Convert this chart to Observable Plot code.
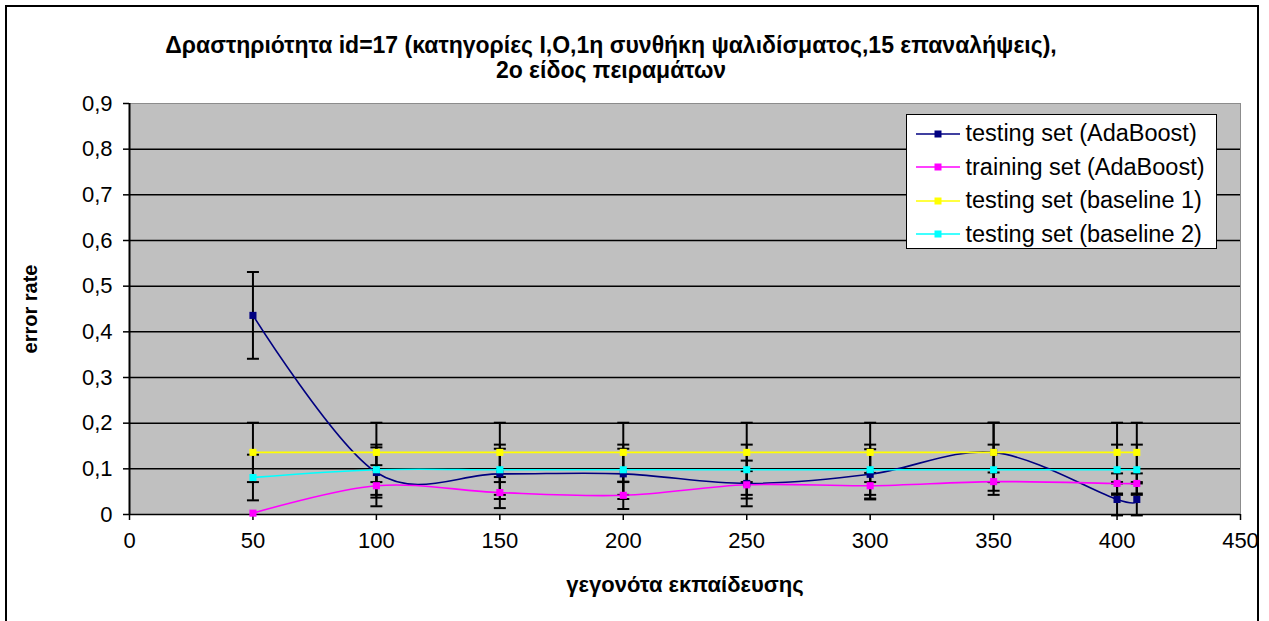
<!DOCTYPE html>
<html>
<head>
<meta charset="utf-8">
<script src="https://cdn.jsdelivr.net/npm/d3@7"></script>
<script src="https://cdn.jsdelivr.net/npm/@observablehq/plot@0.6"></script>
<style>
  html, body { margin: 0; padding: 0; background: #fff; }
  #wrap { position: relative; width: 1269px; height: 621px; overflow: hidden; font-family: "Liberation Sans", Arial, sans-serif; }
  #frame { position: absolute; left: 5px; top: 5px; width: 1254px; height: 700px; border: 2px solid #000; box-sizing: border-box; }
  #chart { position: absolute; left: 0; top: 0; }
  #legend { position: absolute; left: 906px; top: 114px; width: 311px; height: 135px; box-sizing: border-box; border: 1.5px solid #000; background: #fff; padding-top: 2px; }
  .row { display: flex; align-items: center; height: 33.5px; font-size: 23.5px; color: #000; white-space: nowrap; }
  .row svg { margin-left: 8.5px; margin-right: 6px; flex: none; }
</style>
</head>
<body>
<div id="wrap">
  <div id="frame"></div>
  <div id="chart"></div>
  <div id="legend"></div>
</div>
<script>
// ---- data ----
const events = [50, 100, 150, 200, 250, 300, 350, 400, 408];
const testingAda = [0.436, 0.092, 0.089, 0.089, 0.068, 0.088, 0.136, 0.033, 0.033];
const testingAdaErr = [0.095, 0.055, 0.055, 0.055, 0.05, 0.055, 0.065, 0.035, 0.035];
const trainingAda = [0.003, 0.063, 0.048, 0.042, 0.065, 0.063, 0.072, 0.068, 0.068];
const trainingAdaErr = [0.0, 0.045, 0.034, 0.03, 0.03, 0.028, 0.02, 0.022, 0.022];
const baseline1 = [0.136, 0.136, 0.136, 0.136, 0.136, 0.136, 0.136, 0.136, 0.136];
const baseline1Err = [0.065, 0.065, 0.065, 0.065, 0.065, 0.065, 0.065, 0.065, 0.065];
const baseline2 = [0.081, 0.098, 0.098, 0.098, 0.098, 0.098, 0.098, 0.098, 0.098];
const baseline2Err = [0.05, 0.055, 0.055, 0.055, 0.055, 0.055, 0.055, 0.055, 0.055];
const seriesNames = ["testing set (AdaBoost)", "training set (AdaBoost)", "testing set (baseline 1)", "testing set (baseline 2)"];
const seriesColors = ["#000080", "#ff00ff", "#ffff00", "#00ffff"];
const xTicks = [0, 50, 100, 150, 200, 250, 300, 350, 400, 450];
const yTicks = [0, 0.1, 0.2, 0.3, 0.4, 0.5, 0.6, 0.7, 0.8, 0.9];
const titleLines = ["Δραστηριότητα id=17 (κατηγορίες I,O,1η συνθήκη ψαλιδίσματος,15 επαναλήψεις),", "2ο είδος πειραμάτων"];
const xTitle = "γεγονότα εκπαίδευσης";
const yTitle = "error rate";

// ---- build table ----
const valuesBySeries = [testingAda, trainingAda, baseline1, baseline2];
const errBySeries = [testingAdaErr, trainingAdaErr, baseline1Err, baseline2Err];
const rows = [];
seriesNames.forEach((s, si) => {
  events.forEach((x, i) => {
    rows.push({series: s, x, y: valuesBySeries[si][i], e: errBySeries[si][i], order: si});
  });
});
const errRows = rows.filter(d => d.e > 0);

const capSymbol = {
  draw(context, size) {
    const w = Math.sqrt(size / Math.PI);
    context.moveTo(-w, 0);
    context.lineTo(w, 0);
  }
};

const fmt = d => d === 0 ? "0" : d.toFixed(1).replace(".", ",");

const chart = Plot.plot({
  width: 1269,
  height: 621,
  marginTop: 103,
  marginBottom: 107,
  marginLeft: 129,
  marginRight: 29,
  style: {fontFamily: "'Liberation Sans', Arial, sans-serif", fontSize: "22px", color: "#000", background: "transparent"},
  x: {domain: [0, 450], ticks: xTicks},
  y: {domain: [0, 0.9], ticks: yTicks},
  marks: [
    Plot.frame({fill: "#c0c0c0", stroke: "#8c8c8c"}),
    Plot.ruleY(yTicks.slice(0, 9), {stroke: "#000", strokeWidth: 1.5}),
    Plot.ruleX([0], {stroke: "#000", strokeWidth: 2}),
    Plot.axisX({ticks: xTicks, tickSize: 6, tickPadding: 12, tickFormat: d => String(d), label: null, fontSize: 22, stroke: "#000", strokeWidth: 1.5}),
    Plot.axisY({ticks: yTicks, tickSize: 6, tickPadding: 11, tickFormat: fmt, label: null, fontSize: 22, stroke: "#000", strokeWidth: 1.5}),
    // error bars
    Plot.ruleX(errRows, {x: "x", y1: d => d.y - d.e, y2: d => d.y + d.e, stroke: "#000", strokeWidth: 2}),
    Plot.dot(errRows, {x: "x", y: d => d.y - d.e, symbol: capSymbol, r: 6, stroke: "#000", strokeWidth: 2, fill: "none"}),
    Plot.dot(errRows, {x: "x", y: d => d.y + d.e, symbol: capSymbol, r: 6, stroke: "#000", strokeWidth: 2, fill: "none"}),
    // lines
    ...seriesNames.map((s, si) => Plot.line(rows.filter(d => d.order === si), {x: "x", y: "y", stroke: seriesColors[si], strokeWidth: 1.6, curve: "cardinal", tension: 0})),
    // markers
    ...seriesNames.map((s, si) => Plot.dot(rows.filter(d => d.order === si), {x: "x", y: "y", symbol: "square", r: 4, fill: seriesColors[si], stroke: "none"})),
    // titles
    Plot.text([titleLines[0]], {frameAnchor: "top", dx: -74, dy: -58, text: d => d, fontWeight: "bold", fontSize: 23, lineAnchor: "middle"}),
    Plot.text([titleLines[1]], {frameAnchor: "top", dx: -74, dy: -33, text: d => d, fontWeight: "bold", fontSize: 23, lineAnchor: "middle"}),
    Plot.text([xTitle], {frameAnchor: "bottom", dy: 70, text: d => d, fontWeight: "bold", fontSize: 22, textAnchor: "middle", lineAnchor: "middle", style: {letterSpacing: "1px"}}),
    Plot.text([yTitle], {frameAnchor: "left", dx: -99, rotate: -90, text: d => d, fontWeight: "bold", fontSize: 20, textAnchor: "middle", lineAnchor: "middle"})
  ]
});
document.getElementById("chart").appendChild(chart);

// legend
const legend = document.getElementById("legend");
seriesNames.forEach((s, si) => {
  const row = document.createElement("div");
  row.className = "row";
  row.innerHTML = `<svg width="44" height="10"><line x1="0" y1="5" x2="44" y2="5" stroke="${seriesColors[si]}" stroke-width="1.6"/><rect x="18.5" y="1.5" width="7" height="7" fill="${seriesColors[si]}"/></svg><span>${s}</span>`;
  legend.appendChild(row);
});
</script>
</body>
</html>
